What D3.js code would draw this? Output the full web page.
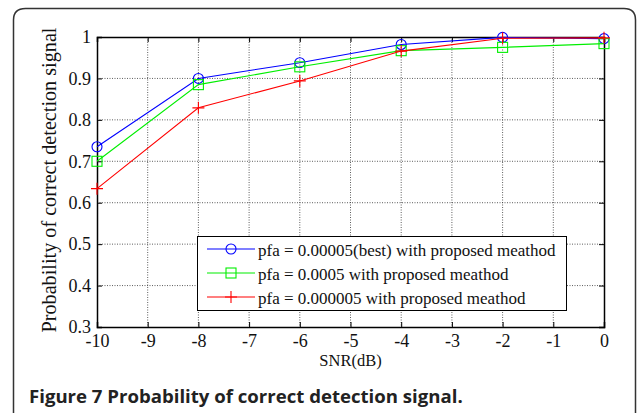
<!DOCTYPE html>
<html>
<head>
<meta charset="utf-8">
<script src="https://cdn.jsdelivr.net/npm/d3@7"></script>
<style>
  body { margin: 0; background: #fff; }
  svg text { font-family: "Liberation Serif", "DejaVu Serif", serif; fill: #111; }
  .grid line { stroke: #333; stroke-dasharray: 1,1.5; stroke-width: 0.8; }
  .caption { font-family: "Open Sans", "Noto Sans", sans-serif !important; font-weight: 700; fill: #222 !important; }
</style>
</head>
<body>
<svg id="chart" width="637" height="413"></svg>
<script>
const snr = [-10, -8, -6, -4, -2, 0]
const pfa_best = [0.735, 0.900, 0.938, 0.982, 0.999, 0.996]
const pfa_0005 = [0.700, 0.885, 0.928, 0.967, 0.975, 0.984]
const pfa_000005 = [0.634, 0.829, 0.894, 0.966, 0.997, 0.998]
const series_names = ["pfa = 0.00005(best) with proposed meathod",
                      "pfa = 0.0005 with proposed meathod",
                      "pfa = 0.000005 with proposed meathod"]
const series_colors = ["#0000ff", "#00ee00", "#ff0000"]
const series_markers = ["circle", "square", "plus"]
const x_ticks = [-10, -9, -8, -7, -6, -5, -4, -3, -2, -1, 0]
const y_ticks = [0.3, 0.4, 0.5, 0.6, 0.7, 0.8, 0.9, 1]

const svg = d3.select("#chart")

// outer rounded frame, open at the bottom
svg.append("path")
  .attr("d", "M13.5,420 L13.5,20 Q13.5,8.5 25.5,8.5 L624,8.5 Q635.5,8.5 635.5,20 L635.5,420")
  .attr("fill", "none").attr("stroke", "#333").attr("stroke-width", 1.5)

const plot_left = 97, plot_right = 604, plot_top = 37, plot_bottom = 327
const x = d3.scaleLinear().domain([-10, 0]).range([plot_left, plot_right])
const y = d3.scaleLinear().domain([0.3, 1]).range([plot_bottom, plot_top])

// grid
const grid = svg.append("g").classed("grid", true)
grid.selectAll("line.vx").data(x_ticks.slice(1, -1)).enter().append("line")
  .attr("x1", d => x(d)).attr("x2", d => x(d)).attr("y1", plot_top).attr("y2", plot_bottom)
grid.selectAll("line.hy").data(y_ticks.slice(1, -1)).enter().append("line")
  .attr("x1", plot_left).attr("x2", plot_right).attr("y1", d => y(d)).attr("y2", d => y(d))

// axes (ticks inward, mirrored) - plain hyphen for negatives like matlab
const fmt = d => String(d)
svg.append("g").attr("transform", `translate(0,${plot_bottom})`)
  .call(d3.axisBottom(x).tickValues(x_ticks).tickSize(-5).tickPadding(7).tickFormat(fmt))
svg.append("g").attr("transform", `translate(${plot_left},0)`)
  .call(d3.axisLeft(y).tickValues(y_ticks).tickSize(-5).tickPadding(6).tickFormat(fmt))
svg.append("g").attr("transform", `translate(0,${plot_top})`)
  .call(d3.axisTop(x).tickValues(x_ticks).tickSize(-5).tickFormat(""))
svg.append("g").attr("transform", `translate(${plot_right},0)`)
  .call(d3.axisRight(y).tickValues(y_ticks).tickSize(-5).tickFormat(""))
svg.selectAll(".domain").attr("stroke", "#000").attr("stroke-width", 1.5)
svg.selectAll(".tick line").attr("stroke", "#000")
svg.selectAll(".tick text").style("font-size", "18px").attr("fill", "#111")
  .style("font-family", '"Liberation Serif", serif')

// axis labels
svg.append("text").text("SNR(dB)")
  .attr("x", (plot_left + plot_right) / 2).attr("y", 365.5)
  .attr("text-anchor", "middle").style("font-size", "16.5px")
svg.append("text").text("Probability of correct detection signal")
  .attr("transform", `translate(56,${(plot_top + plot_bottom) / 2 - 2}) rotate(-90)`)
  .attr("text-anchor", "middle").style("font-size", "20.2px")

function draw_marker(g, kind, cx, cy, color) {
  if (kind == "circle") {
    g.append("circle").attr("cx", cx).attr("cy", cy).attr("r", 5)
      .attr("fill", "none").attr("stroke", color).attr("stroke-width", 1.1)
  } else if (kind == "square") {
    g.append("rect").attr("x", cx - 5).attr("y", cy - 5).attr("width", 10).attr("height", 10)
      .attr("fill", "none").attr("stroke", color).attr("stroke-width", 1.1)
  } else {
    g.append("path").attr("d", `M${cx - 6},${cy}H${cx + 6}M${cx},${cy - 6}V${cy + 6}`)
      .attr("fill", "none").attr("stroke", color).attr("stroke-width", 1.1)
  }
}

const all_series = [pfa_best, pfa_0005, pfa_000005]
const line = d3.line().x((d, i) => x(snr[i])).y(d => y(d))

all_series.forEach((vals, s) => {
  const g = svg.append("g").classed("series", true)
  g.append("path").datum(vals).attr("d", line)
    .attr("fill", "none").attr("stroke", series_colors[s]).attr("stroke-width", 1.1)
  vals.forEach((v, i) => draw_marker(g, series_markers[s], x(snr[i]), y(v), series_colors[s]))
})

// legend
const lg = svg.append("g").classed("legend", true)
lg.append("rect").attr("x", 197.5).attr("y", 236.5).attr("width", 369).attr("height", 74)
  .attr("fill", "#fff").attr("stroke", "#000").attr("stroke-width", 1)
series_names.forEach((name, i) => {
  const ly = 249 + i * 24
  lg.append("line").attr("x1", 207).attr("x2", 255).attr("y1", ly).attr("y2", ly)
    .attr("stroke", series_colors[i]).attr("stroke-width", 1.1)
  draw_marker(lg, series_markers[i], 231, ly, series_colors[i])
  lg.append("text").text(name).attr("x", 258).attr("y", ly + 7).style("font-size", "17px")
})

// caption
svg.append("text").classed("caption", true)
  .text("Figure 7 Probability of correct detection signal.")
  .attr("x", 29).attr("y", 403).style("font-size", "18.6px")
</script>
</body>
</html>
